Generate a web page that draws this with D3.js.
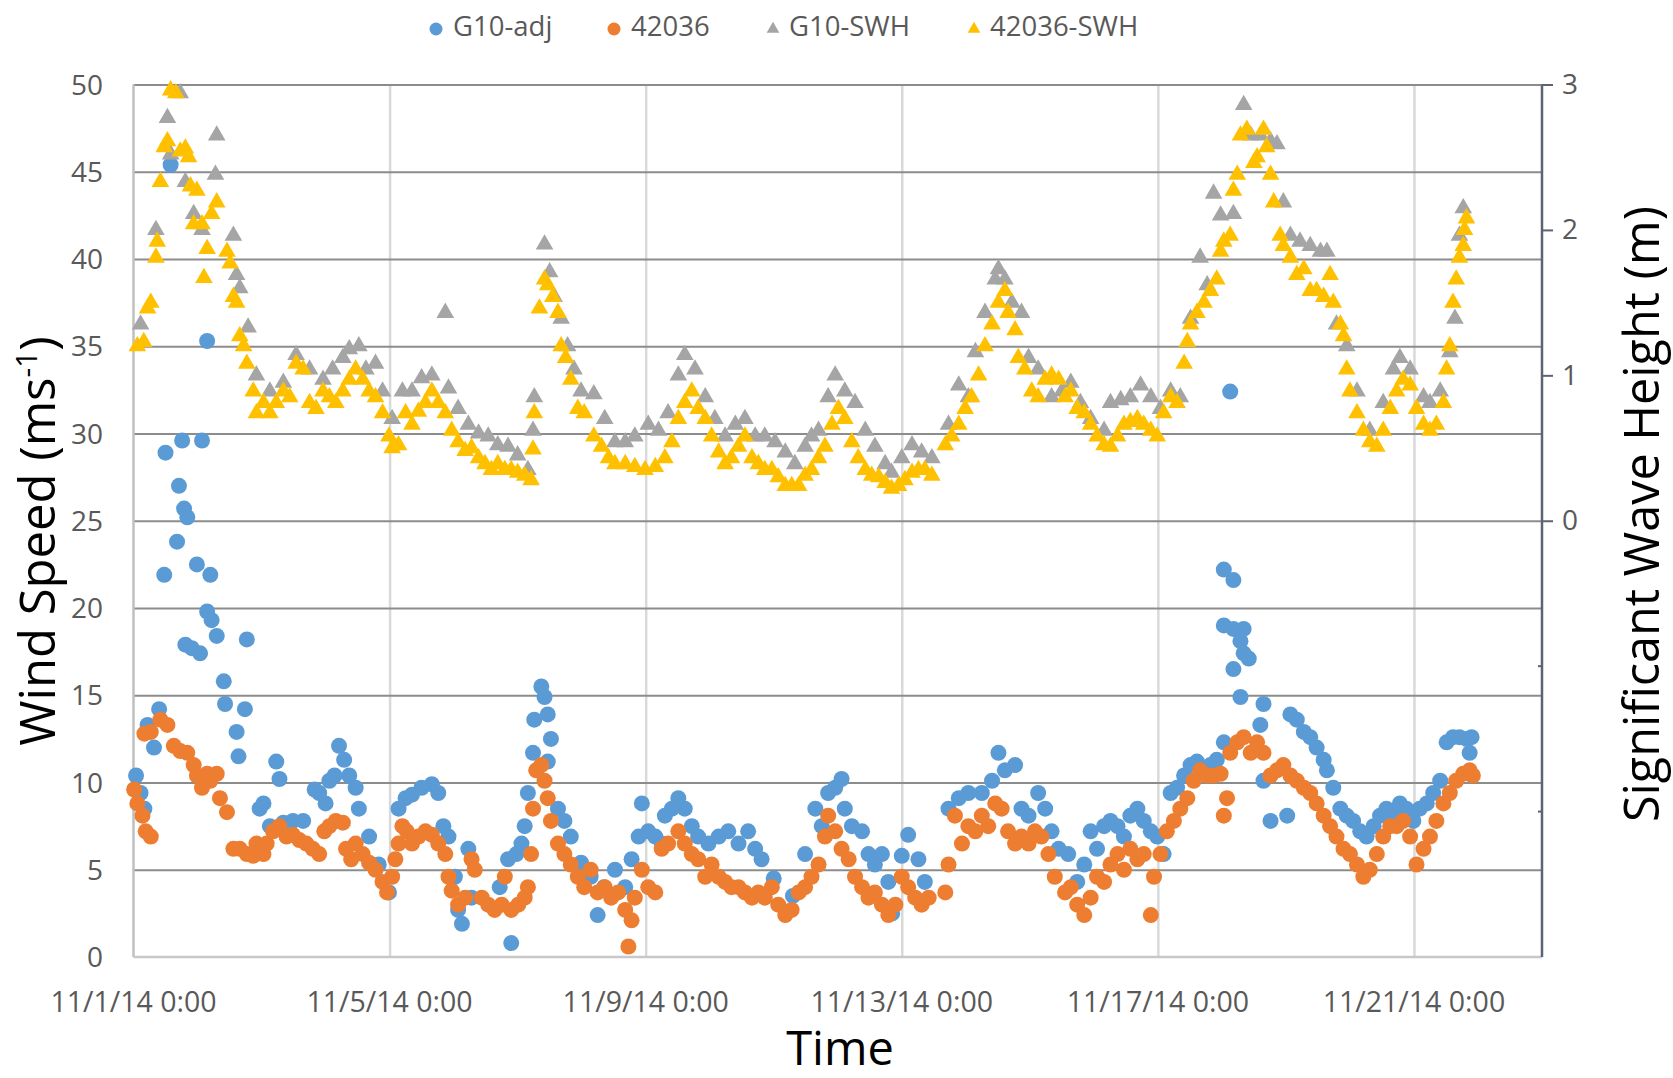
<!DOCTYPE html>
<html>
<head>
<meta charset="utf-8">
<script src="https://cdn.jsdelivr.net/npm/d3@7"></script>
<style>
  html, body { margin: 0; padding: 0; background: #ffffff; }
  svg { display: block; }
</style>
</head>
<body>
<svg id="chart" width="1673" height="1078"></svg>
<script>
// ---- Data: [day offset from 11/1/14 0:00, value] ----
const seriesNames = ["G10-adj", "42036", "G10-SWH", "42036-SWH"];
const xTickDays = [0, 4, 8, 12, 16, 20];
const leftTicks = [0, 5, 10, 15, 20, 25, 30, 35, 40, 45, 50];
const rightTicks = [0, 1, 2, 3];

// Wind speed (m/s), G10-adj
const g10Adj = [
[0.04,10.4],[0.11,9.4],[0.17,8.5],[0.22,13.3],[0.32,12.0],[0.40,14.2],[0.48,21.9],[0.50,28.9],[0.58,45.4],[0.68,23.8],
[0.71,27.0],[0.76,29.6],[0.79,25.7],[0.84,25.2],[0.81,17.9],[0.91,17.7],[0.99,22.5],[1.04,17.4],[1.07,29.6],[1.15,35.3],
[1.15,19.8],[1.20,21.9],[1.22,19.3],[1.30,18.4],[1.41,15.8],[1.43,14.5],[1.61,12.9],[1.64,11.5],[1.74,14.2],[1.77,18.2],
[1.97,8.5],[2.03,8.8],[2.13,7.5],[2.23,11.2],[2.28,10.2],[2.34,7.7],[2.49,7.8],[2.65,7.8],[2.83,9.6],[2.90,9.4],
[3.00,8.8],[3.06,10.1],[3.14,10.4],[3.21,12.1],[3.29,11.3],[3.37,10.4],[3.47,9.7],[3.52,8.5],[3.68,6.9],[3.83,5.3],
[3.99,3.7],[4.14,8.5],[4.25,9.1],[4.35,9.3],[4.50,9.7],[4.66,9.9],[4.76,9.4],[4.84,7.5],[4.92,6.9],[5.02,4.6],
[5.07,2.7],[5.13,1.9],[5.23,6.2],[5.28,3.4],[5.72,4.0],[5.85,5.6],[5.90,0.8],[5.98,5.9],[6.06,6.5],[6.11,7.5],
[6.16,9.4],[6.24,11.7],[6.26,13.6],[6.37,15.5],[6.42,14.9],[6.47,13.9],[6.52,12.5],[6.47,11.2],[6.63,8.5],[6.73,7.8],
[6.83,6.9],[6.99,5.4],[7.14,4.6],[7.25,2.4],[7.35,4.0],[7.52,5.0],[7.68,4.0],[7.78,5.6],[7.89,6.9],[7.94,8.8],
[8.04,7.2],[8.15,6.9],[8.25,6.5],[8.30,8.1],[8.41,8.5],[8.51,9.1],[8.61,8.5],[8.72,7.5],[8.82,6.9],[8.98,6.5],
[9.14,6.9],[9.29,7.2],[9.45,6.5],[9.60,7.2],[9.71,6.2],[9.81,5.6],[10.00,4.5],[10.20,2.6],[10.30,3.5],[10.49,5.9],
[10.65,8.5],[10.75,7.5],[10.85,9.4],[10.96,9.7],[11.06,10.2],[11.11,8.5],[11.22,7.5],[11.38,7.2],[11.48,5.9],[11.58,5.3],
[11.69,5.9],[11.79,4.3],[11.85,2.5],[12.00,5.8],[12.10,7.0],[12.26,5.6],[12.36,4.3],[12.73,8.5],[12.89,9.1],[13.04,9.4],
[13.25,9.4],[13.41,10.1],[13.51,11.7],[13.61,10.7],[13.77,11.0],[13.87,8.5],[13.98,8.1],[14.13,9.4],[14.24,8.5],[14.34,7.2],
[14.45,6.2],[14.60,5.9],[14.74,4.3],[14.85,5.3],[14.95,7.2],[15.05,6.2],[15.16,7.5],[15.26,7.8],[15.37,7.5],[15.47,6.9],
[15.57,8.1],[15.68,8.5],[15.78,7.8],[15.89,7.2],[15.99,6.9],[16.09,5.9],[16.20,9.4],[16.30,9.7],[16.41,10.4],[16.51,11.0],
[16.61,11.2],[16.72,10.7],[16.82,11.0],[16.92,11.3],[17.03,12.3],[17.13,32.4],[17.03,22.2],[17.18,21.6],[17.03,19.0],[17.18,18.8],
[17.34,18.8],[17.29,18.1],[17.34,17.4],[17.42,17.1],[17.18,16.5],[17.29,14.9],[17.65,14.5],[17.60,13.3],[17.65,10.1],[17.76,7.8],
[18.02,8.1],[18.07,13.9],[18.17,13.6],[18.28,12.9],[18.38,12.6],[18.48,12.0],[18.59,11.3],[18.64,10.7],[18.74,9.7],[18.85,8.5],
[18.95,8.1],[19.05,7.8],[19.16,7.2],[19.26,6.9],[19.37,7.5],[19.47,8.1],[19.57,8.5],[19.68,8.1],[19.78,8.8],[19.88,8.5],
[19.99,7.8],[20.09,8.5],[20.20,8.8],[20.30,9.4],[20.41,10.1],[20.51,12.3],[20.61,12.6],[20.71,12.6],[20.82,12.5],[20.90,12.6],
[20.87,11.7]
];

// Wind speed (m/s), buoy 42036
const buoy42036 = [
[0.01,9.6],[0.06,8.8],[0.14,8.1],[0.19,7.2],[0.27,6.9],[0.17,12.8],[0.27,12.9],[0.42,13.6],[0.53,13.3],[0.63,12.1],
[0.73,11.8],[0.84,11.7],[0.94,11.0],[0.99,10.4],[1.07,9.7],[1.15,10.5],[1.20,10.1],[1.30,10.5],[1.35,9.1],[1.46,8.3],
[1.56,6.2],[1.66,6.2],[1.77,5.9],[1.87,5.8],[1.92,6.5],[2.03,5.9],[2.08,6.5],[2.18,7.2],[2.28,7.5],[2.39,6.9],
[2.49,7.0],[2.59,6.7],[2.70,6.5],[2.80,6.2],[2.90,5.9],[2.98,7.2],[3.06,7.5],[3.16,7.8],[3.27,7.7],[3.32,6.2],
[3.40,5.6],[3.47,6.5],[3.58,5.9],[3.68,5.4],[3.78,5.0],[3.89,4.3],[3.96,3.7],[4.04,4.6],[4.09,5.6],[4.14,6.5],
[4.20,7.5],[4.27,7.2],[4.35,6.5],[4.45,6.9],[4.56,7.2],[4.66,7.0],[4.76,6.5],[4.87,5.9],[4.92,4.6],[4.97,3.8],
[5.07,3.0],[5.18,3.4],[5.28,5.6],[5.33,5.0],[5.44,3.4],[5.54,3.0],[5.64,2.7],[5.75,3.0],[5.80,4.6],[5.90,2.7],
[6.01,3.0],[6.11,3.4],[6.16,4.0],[6.21,5.9],[6.24,8.5],[6.29,10.7],[6.37,11.0],[6.42,10.1],[6.47,9.1],[6.52,7.8],
[6.63,6.5],[6.73,5.9],[6.83,5.3],[6.94,4.6],[7.04,4.0],[7.14,5.0],[7.25,3.7],[7.36,4.0],[7.46,3.4],[7.57,3.7],
[7.68,2.7],[7.73,0.6],[7.78,2.1],[7.83,3.4],[7.94,5.0],[8.04,4.0],[8.15,3.7],[8.25,6.2],[8.35,6.5],[8.51,7.2],
[8.61,6.5],[8.72,5.9],[8.82,5.6],[8.93,4.6],[9.03,5.3],[9.14,4.6],[9.24,4.3],[9.34,4.0],[9.45,4.0],[9.55,3.7],
[9.66,3.4],[9.76,3.7],[9.86,3.4],[9.97,4.0],[10.07,3.0],[10.18,2.4],[10.28,2.7],[10.39,3.7],[10.49,4.0],[10.59,4.6],
[10.70,5.3],[10.80,6.9],[10.85,8.1],[10.96,7.2],[11.06,6.2],[11.17,5.6],[11.27,4.6],[11.38,4.0],[11.48,3.4],[11.58,3.7],
[11.69,3.0],[11.79,2.4],[11.90,3.0],[12.00,4.6],[12.10,4.0],[12.21,3.4],[12.31,3.0],[12.42,3.4],[12.68,3.7],[12.73,5.3],
[12.83,8.1],[12.94,6.5],[13.04,7.5],[13.15,7.2],[13.25,8.1],[13.35,7.5],[13.46,8.8],[13.56,8.5],[13.66,7.2],[13.77,6.5],
[13.87,6.9],[13.98,6.5],[14.08,7.2],[14.18,6.9],[14.29,5.9],[14.39,4.6],[14.55,3.7],[14.64,4.0],[14.74,3.0],[14.85,2.4],
[14.95,3.4],[15.05,4.6],[15.16,4.3],[15.26,5.3],[15.37,5.9],[15.47,5.0],[15.57,6.2],[15.68,5.6],[15.78,5.9],[15.89,2.4],
[15.94,4.6],[16.04,5.9],[16.14,7.2],[16.25,7.8],[16.35,8.5],[16.46,9.1],[16.56,10.1],[16.66,10.7],[16.77,10.4],[16.87,10.4],
[16.98,10.5],[17.08,9.1],[17.03,8.1],[17.13,11.7],[17.24,12.3],[17.34,12.6],[17.45,11.7],[17.55,12.3],[17.65,11.7],[17.76,10.4],
[17.86,10.7],[17.96,11.0],[18.07,10.4],[18.17,10.1],[18.28,9.7],[18.38,9.4],[18.48,8.8],[18.59,8.1],[18.69,7.5],[18.79,6.9],
[18.90,6.2],[19.00,5.9],[19.11,5.3],[19.21,4.6],[19.31,5.0],[19.42,5.9],[19.52,6.9],[19.63,7.5],[19.73,7.5],[19.83,7.8],
[19.94,6.9],[20.04,5.3],[20.15,6.2],[20.25,6.9],[20.35,7.8],[20.46,8.8],[20.56,9.4],[20.66,10.1],[20.77,10.5],[20.87,10.7],
[20.92,10.4]
];

// Significant wave height (m), G10-SWH
const g10Swh = [
[0.11,1.35],[0.35,2.00],[0.53,2.77],[0.58,2.52],[0.73,2.94],[0.81,2.33],[0.94,2.11],[1.07,2.00],[1.28,2.38],[1.30,2.65],
[1.56,1.96],[1.61,1.69],[1.66,1.60],[1.79,1.33],[1.92,1.00],[2.13,0.89],[2.34,0.95],[2.54,1.14],[2.75,1.04],[2.96,0.97],
[3.11,1.04],[3.27,1.12],[3.37,1.18],[3.52,1.20],[3.63,1.04],[3.78,1.08],[3.89,0.89],[4.04,0.70],[4.20,0.89],[4.35,0.89],
[4.50,0.98],[4.66,1.00],[4.87,1.43],[4.92,0.91],[5.07,0.77],[5.23,0.66],[5.39,0.60],[5.54,0.58],[5.69,0.52],[5.85,0.51],
[6.00,0.45],[6.16,0.35],[6.24,0.62],[6.26,0.85],[6.42,1.90],[6.50,1.71],[6.57,1.54],[6.68,1.39],[6.78,1.20],[6.88,1.04],
[6.99,0.89],[7.19,0.87],[7.36,0.70],[7.52,0.54],[7.68,0.54],[7.83,0.58],[8.04,0.66],[8.20,0.62],[8.35,0.74],[8.51,1.00],
[8.61,1.14],[8.77,1.04],[8.93,0.85],[9.08,0.70],[9.24,0.58],[9.40,0.66],[9.55,0.70],[9.71,0.58],[9.86,0.58],[10.02,0.54],
[10.18,0.47],[10.33,0.39],[10.49,0.51],[10.59,0.58],[10.70,0.62],[10.85,0.85],[10.96,1.00],[11.11,0.89],[11.27,0.81],[11.43,0.62],
[11.58,0.51],[11.74,0.39],[11.84,0.33],[12.00,0.43],[12.16,0.52],[12.31,0.47],[12.47,0.43],[12.73,0.66],[12.89,0.93],[13.04,0.85],
[13.15,1.16],[13.30,1.43],[13.46,1.66],[13.51,1.73],[13.61,1.66],[13.72,1.50],[13.87,1.43],[13.98,1.12],[14.13,1.04],[14.34,0.85],
[14.50,0.89],[14.64,0.95],[14.79,0.81],[14.95,0.70],[15.16,0.62],[15.26,0.81],[15.42,0.83],[15.57,0.85],[15.73,0.93],[15.89,0.85],
[16.04,0.77],[16.20,0.89],[16.35,0.85],[16.51,1.39],[16.66,1.81],[16.77,1.62],[16.87,2.25],[16.98,2.10],[17.18,2.11],[17.34,2.86],
[17.45,2.65],[17.60,2.65],[17.76,2.61],[17.86,2.59],[17.96,2.19],[18.07,1.96],[18.22,1.92],[18.38,1.89],[18.54,1.85],[18.64,1.85],
[18.79,1.35],[18.95,1.20],[19.11,0.89],[19.31,0.62],[19.52,0.81],[19.68,1.04],[19.78,1.12],[19.94,1.04],[20.15,0.85],[20.25,0.81],
[20.41,0.89],[20.56,1.16],[20.64,1.39],[20.71,1.96],[20.77,2.15]
];

// Significant wave height (m), buoy 42036
const buoySwh = [
[0.06,1.20],[0.16,1.23],[0.22,1.46],[0.27,1.50],[0.35,1.81],[0.37,1.92],[0.42,2.33],[0.48,2.57],[0.53,2.61],[0.58,2.96],
[0.66,2.94],[0.73,2.54],[0.81,2.56],[0.86,2.50],[0.89,2.30],[0.94,2.04],[0.99,2.27],[1.07,2.04],[1.10,1.67],[1.15,1.87],
[1.22,2.11],[1.30,2.19],[1.46,1.85],[1.51,1.77],[1.56,1.54],[1.61,1.50],[1.66,1.27],[1.72,1.20],[1.77,1.08],[1.87,0.89],
[1.92,0.74],[2.03,0.81],[2.13,0.74],[2.23,0.81],[2.34,0.89],[2.44,0.85],[2.54,1.08],[2.65,1.04],[2.75,0.81],[2.85,0.77],
[2.96,0.89],[3.06,0.85],[3.16,0.81],[3.27,0.89],[3.37,0.97],[3.47,1.04],[3.58,0.97],[3.68,0.89],[3.78,0.85],[3.89,0.74],
[3.99,0.58],[4.04,0.50],[4.14,0.52],[4.25,0.74],[4.35,0.66],[4.45,0.75],[4.56,0.81],[4.66,0.89],[4.76,0.81],[4.87,0.74],
[4.97,0.62],[5.07,0.54],[5.18,0.48],[5.28,0.50],[5.39,0.43],[5.49,0.39],[5.59,0.35],[5.69,0.39],[5.80,0.35],[5.90,0.35],
[6.00,0.33],[6.11,0.31],[6.21,0.28],[6.24,0.49],[6.26,0.74],[6.34,1.46],[6.42,1.66],[6.47,1.62],[6.55,1.54],[6.63,1.43],
[6.68,1.20],[6.75,1.12],[6.83,0.97],[6.94,0.77],[7.04,0.74],[7.19,0.58],[7.31,0.51],[7.42,0.43],[7.52,0.39],[7.68,0.39],
[7.83,0.37],[7.99,0.35],[8.15,0.37],[8.30,0.43],[8.41,0.54],[8.51,0.70],[8.61,0.81],[8.72,0.89],[8.82,0.77],[8.93,0.70],
[9.03,0.58],[9.14,0.47],[9.24,0.39],[9.34,0.43],[9.45,0.51],[9.55,0.58],[9.66,0.43],[9.76,0.39],[9.86,0.35],[9.97,0.35],
[10.07,0.30],[10.18,0.24],[10.28,0.24],[10.39,0.24],[10.49,0.31],[10.59,0.35],[10.70,0.43],[10.80,0.51],[10.91,0.66],[11.01,0.77],
[11.11,0.70],[11.22,0.54],[11.32,0.43],[11.43,0.35],[11.53,0.31],[11.64,0.30],[11.74,0.26],[11.84,0.22],[11.95,0.24],[12.05,0.28],
[12.16,0.33],[12.26,0.35],[12.36,0.35],[12.47,0.31],[12.68,0.52],[12.78,0.58],[12.89,0.66],[12.99,0.77],[13.09,0.85],[13.20,1.00],
[13.30,1.20],[13.41,1.35],[13.51,1.50],[13.61,1.58],[13.66,1.43],[13.77,1.31],[13.82,1.12],[13.92,1.04],[14.03,0.89],[14.13,0.85],
[14.24,0.97],[14.34,1.00],[14.45,0.97],[14.55,0.85],[14.64,0.89],[14.74,0.77],[14.85,0.74],[14.95,0.66],[15.05,0.58],[15.16,0.52],
[15.26,0.51],[15.37,0.58],[15.47,0.66],[15.57,0.68],[15.68,0.70],[15.78,0.66],[15.89,0.62],[15.99,0.58],[16.09,0.74],[16.20,0.85],
[16.30,0.81],[16.41,1.08],[16.46,1.23],[16.51,1.35],[16.61,1.43],[16.72,1.50],[16.82,1.58],[16.92,1.66],[16.98,1.85],[17.03,1.92],
[17.13,1.96],[17.18,2.27],[17.24,2.38],[17.29,2.65],[17.39,2.69],[17.50,2.46],[17.55,2.50],[17.65,2.69],[17.70,2.57],[17.76,2.38],
[17.81,2.19],[17.91,1.96],[17.96,1.89],[18.07,1.81],[18.17,1.69],[18.28,1.73],[18.38,1.58],[18.48,1.58],[18.59,1.54],[18.69,1.69],
[18.74,1.50],[18.85,1.35],[18.90,1.27],[18.95,1.04],[19.00,0.89],[19.11,0.74],[19.21,0.62],[19.31,0.54],[19.42,0.51],[19.52,0.62],
[19.63,0.77],[19.73,0.89],[19.83,0.97],[19.94,0.93],[20.04,0.77],[20.15,0.66],[20.25,0.62],[20.35,0.66],[20.46,0.81],[20.51,1.04],
[20.56,1.20],[20.61,1.50],[20.66,1.66],[20.71,1.81],[20.77,1.89],[20.79,2.00],[20.82,2.08]
];

// ---- Chart ----
const DAY = 864e5;
const t0 = Date.UTC(2014, 10, 1);
const toDate = d => new Date(t0 + d * DAY);

const svg = d3.select("#chart");
svg.append("rect").attr("width", 1673).attr("height", 1078).attr("fill", "#fff");

const L = 133.5, R = 1542, T = 84.5, B = 957;
const x = d3.scaleUtc().domain([toDate(0), toDate(22)]).range([L, R]);
const yL = d3.scaleLinear().domain([0, 50]).range([B, T]);
const yR = d3.scaleLinear().domain([-3, 3]).range([B, T]);
const fmt = d3.utcFormat("%-m/%-d/%y %-H:%M");
const FONT = "'Open Sans', 'Noto Sans', sans-serif";

// vertical gridlines
svg.append("g").attr("transform", `translate(0,${B})`)
  .call(d3.axisBottom(x).tickValues(xTickDays.filter(d => d > 0).map(toDate)).tickSize(-(B - T)).tickFormat(""))
  .call(g => g.select(".domain").remove())
  .call(g => g.selectAll("line").attr("stroke", "#d9d9d9").attr("stroke-width", 2.5));

// horizontal gridlines
svg.append("g").attr("transform", `translate(${L},0)`)
  .call(d3.axisLeft(yL).tickValues(leftTicks.filter(v => v > 0)).tickSize(-(R - L)).tickFormat(""))
  .call(g => g.select(".domain").remove())
  .call(g => g.selectAll("line").attr("stroke", "#8c8c8c").attr("stroke-width", 2.2));

// left axis line and bottom axis line
svg.append("line").attr("x1", L).attr("x2", L).attr("y1", T).attr("y2", B)
  .attr("stroke", "#bfbfbf").attr("stroke-width", 2.5);
svg.append("line").attr("x1", L).attr("x2", R).attr("y1", B).attr("y2", B)
  .attr("stroke", "#c8c8c8").attr("stroke-width", 2.5);

// left tick labels
svg.append("g").selectAll("text").data(leftTicks).join("text")
  .attr("x", 103).attr("y", d => yL(d)).attr("dy", "0.36em")
  .attr("text-anchor", "end").attr("font-family", FONT).attr("font-size", 28)
  .attr("fill", "#595959").text(d => d);

// bottom tick labels
svg.append("g").selectAll("text").data(xTickDays).join("text")
  .attr("x", d => x(toDate(d))).attr("y", 1012)
  .attr("text-anchor", "middle").attr("font-family", FONT).attr("font-size", 28.5)
  .attr("fill", "#595959").text(d => fmt(toDate(d)));

// right axis
const rAxis = svg.append("g").attr("transform", `translate(${R},0)`)
  .call(d3.axisRight(yR).tickValues(rightTicks).tickSize(11).tickPadding(9).tickFormat(d3.format("d")));
rAxis.select(".domain").attr("stroke", "#5b6472").attr("stroke-width", 2.5).attr("d", `M0,${T}V${B}`);
rAxis.selectAll(".tick line").attr("stroke", "#5b6472").attr("stroke-width", 2);
rAxis.selectAll(".tick text").attr("font-family", FONT).attr("font-size", 28).attr("fill", "#595959");
svg.append("g").selectAll("line").data([-1, -2]).join("line")
  .attr("x1", R - 4).attr("x2", R).attr("y1", d => yR(d)).attr("y2", d => yR(d))
  .attr("stroke", "#5b6472").attr("stroke-width", 2);

// markers
const tri = d3.symbol(d3.symbolTriangle, 135);
const plot = svg.append("g");
plot.append("g").selectAll("circle").data(g10Adj).join("circle")
  .attr("cx", d => x(toDate(d[0]))).attr("cy", d => yL(d[1])).attr("r", 8).attr("fill", "#5b9bd5");
plot.append("g").selectAll("circle").data(buoy42036).join("circle")
  .attr("cx", d => x(toDate(d[0]))).attr("cy", d => yL(d[1])).attr("r", 8).attr("fill", "#ed7d31");
plot.append("g").selectAll("path").data(g10Swh).join("path")
  .attr("d", tri).attr("transform", d => `translate(${x(toDate(d[0]))},${yR(d[1])})`).attr("fill", "#a5a5a5");
plot.append("g").selectAll("path").data(buoySwh).join("path")
  .attr("d", tri).attr("transform", d => `translate(${x(toDate(d[0]))},${yR(d[1])})`).attr("fill", "#ffc000");

// legend
const legendItems = [
  {name: seriesNames[0], color: "#5b9bd5", shape: "circle", mx: 436, tx: 453},
  {name: seriesNames[1], color: "#ed7d31", shape: "circle", mx: 614, tx: 631},
  {name: seriesNames[2], color: "#a5a5a5", shape: "tri", mx: 773, tx: 789},
  {name: seriesNames[3], color: "#ffc000", shape: "tri", mx: 974, tx: 990}
];
const lg = svg.append("g");
legendItems.forEach(it => {
  if (it.shape === "circle") {
    lg.append("circle").attr("cx", it.mx).attr("cy", 29).attr("r", 6.5).attr("fill", it.color);
  } else {
    lg.append("path").attr("d", d3.symbol(d3.symbolTriangle, 70)())
      .attr("transform", `translate(${it.mx},${29})`).attr("fill", it.color);
  }
  lg.append("text").attr("x", it.tx).attr("y", 36).attr("font-family", FONT).attr("font-size", 27.5)
    .attr("fill", "#595959").text(it.name);
});

// axis titles
const yt = svg.append("text").attr("transform", "translate(55,541) rotate(-90)")
  .attr("text-anchor", "middle").attr("font-family", FONT).attr("font-size", 49).attr("fill", "#000");
yt.append("tspan").text("Wind Speed (ms");
yt.append("tspan").attr("font-size", 30).attr("dy", -18).text("-1");
yt.append("tspan").attr("dy", 18).text(")");

svg.append("text").attr("x", 840).attr("y", 1065).attr("text-anchor", "middle")
  .attr("font-family", FONT).attr("font-size", 47).attr("fill", "#000").text("Time");

svg.append("text").attr("transform", "translate(1659,514) rotate(-90)")
  .attr("text-anchor", "middle").attr("font-family", FONT).attr("font-size", 48.5).attr("fill", "#000")
  .text("Significant Wave Height (m)");
</script>
</body>
</html>
